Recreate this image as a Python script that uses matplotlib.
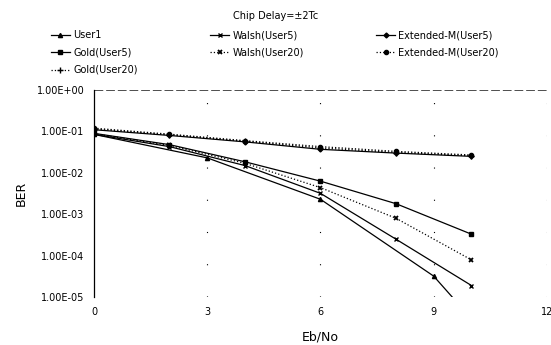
import numpy as np
from matplotlib import pyplot as plt
from matplotlib.ticker import FixedLocator, FuncFormatter

# Eb/No sample points
eb_user1 = [0, 3, 6, 9, 10]
eb = [0, 2, 4, 6, 8, 10]

# BER
ber_user1 = [8.5e-2, 2.3e-2, 2.3e-3, 3.2e-5, 3.0e-6]
ber_gold5 = [9.0e-2, 4.8e-2, 1.85e-2, 6.3e-3, 1.8e-3, 3.3e-4]
ber_walsh5 = [8.5e-2, 4.3e-2, 1.5e-2, 3.2e-3, 2.5e-4, 1.9e-5]
ber_extm5 = [1.1e-1, 8.0e-2, 5.6e-2, 3.7e-2, 3.0e-2, 2.5e-2]
ber_gold20 = [1.15e-1, 8.3e-2, 5.8e-2, 4.0e-2, 3.1e-2, 2.6e-2]
ber_walsh20 = [8.8e-2, 4.6e-2, 1.7e-2, 4.4e-3, 8.0e-4, 7.9e-5]
ber_extm20 = [1.2e-1, 8.6e-2, 6.0e-2, 4.3e-2, 3.3e-2, 2.7e-2]

x_ticks = [0, 3, 6, 9, 12]
y_ticks = [1e-5, 1e-4, 1e-3, 1e-2, 1e-1, 1e0]

plt.rcParams['font.family'] = ['DejaVu Sans']

fig = plt.figure(figsize=(5.51, 3.45), dpi=100)
ax = fig.add_axes([0.1706, 0.139, 0.822, 0.600])

lw = 0.9
ms = 3
h_user1, = ax.plot(eb_user1, ber_user1, '-', marker='^', color='k', lw=lw, ms=ms, label='User1')
h_gold5, = ax.plot(eb, ber_gold5, '-', marker='s', color='k', lw=lw, ms=ms, label='Gold(User5)')
h_gold20, = ax.plot(eb, ber_gold20, ':', marker='+', color='k', lw=lw, ms=ms + 1, label='Gold(User20)')
h_walsh5, = ax.plot(eb, ber_walsh5, '-', marker='x', color='k', lw=lw, ms=ms, label='Walsh(User5)')
h_walsh20, = ax.plot(eb, ber_walsh20, ':', marker='x', color='k', lw=lw, ms=ms, mew=1.3, label='Walsh(User20)')
h_extm5, = ax.plot(eb, ber_extm5, '-', marker='D', color='k', lw=lw, ms=ms - 0.5, label='Extended-M(User5)')
h_extm20, = ax.plot(eb, ber_extm20, ':', marker='o', color='k', lw=lw, ms=ms, label='Extended-M(User20)')

ax.set_yscale('log')
ax.set_xlim(0, 12)
ax.set_ylim(1e-5, 1e0)
ax.xaxis.set_major_locator(FixedLocator(x_ticks))
ax.yaxis.set_major_locator(FixedLocator(y_ticks))
ax.yaxis.set_minor_locator(FixedLocator([]))
ax.yaxis.set_major_formatter(FuncFormatter(lambda v, p: '%.2E' % v))
ax.tick_params(axis='both', length=0, labelsize=7, pad=7)

for s in ['top', 'right', 'bottom']:
    ax.spines[s].set_visible(False)
ax.spines['left'].set_linewidth(0.9)

# dashed line along the top, sparse dotted vertical grid
ax.axhline(1e0, color='0.3', lw=0.7, ls=(0, (9, 3)), clip_on=False)
for xv in x_ticks[1:]:
    ax.axvline(xv, color='k', lw=0.8, ls=(0, (1, 28)))

ax.set_xlabel('Eb/No', fontsize=9, labelpad=10)
ax.set_ylabel('BER', fontsize=9, labelpad=6)

fig.text(0.5, 0.955, 'Chip Delay=\u00b12Tc', ha='center', va='center', fontsize=7)

# legend laid out in three columns placed like the original
columns = [[h_user1, h_gold5, h_gold20], [h_walsh5, h_walsh20], [h_extm5, h_extm20]]
col_x = [0.092, 0.381, 0.682]
for handles, cx in zip(columns, col_x):
    fig.legend(handles=handles, loc='upper left', bbox_to_anchor=(cx, 0.912), frameon=False,
               fontsize=7, handlelength=2.0, handletextpad=0.3, labelspacing=0.75,
               borderaxespad=0, borderpad=0)

plt.savefig('out.png', dpi=100)
